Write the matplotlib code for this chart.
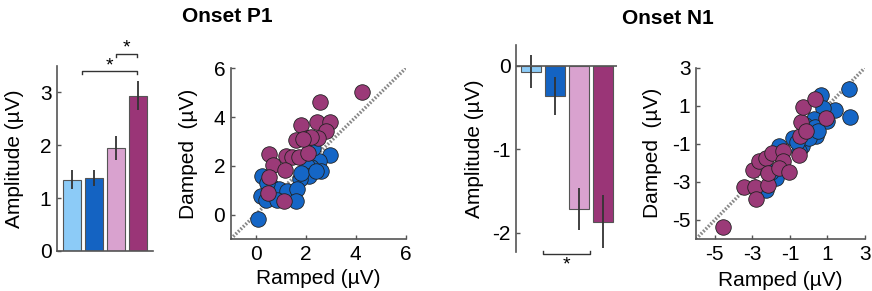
import numpy as np
import matplotlib.pyplot as plt

plt.rcParams['font.family'] = ['Liberation Sans', 'DejaVu Sans']
plt.rcParams['font.size'] = 15

colors = ['#8ccbf7', '#1463c2', '#d9a2cf', '#9a3577']
blue = '#1566c6'
purple = '#9b3a78'
gray = '#555555'

# Onset P1 bars
p1_mean = [1.35, 1.38, 1.95, 2.94]
p1_err = [0.18, 0.15, 0.23, 0.28]

# Onset N1 bars
n1_mean = [-0.07, -0.36, -1.72, -1.87]
n1_err = [0.20, 0.23, 0.25, 0.32]

# Onset P1 scatter (ramped, damped)
p1_blue_x = [0.09, 2.96, 2.53, 2.2, 2.6, 2.04, 2.13, 1.77, 0.27, 0.6, 0.93,
             1.27, 1.67, 0.23, 0.4, 0.87, 1.6, 2.3, 1.8, 2.4, 0.45]
p1_blue_y = [-0.18, 2.43, 2.2, 1.97, 1.8, 1.98, 1.58, 1.44, 1.58, 1.17, 1.03,
             0.97, 1.06, 0.75, 0.6, 0.6, 0.55, 2.75, 1.72, 1.77, 1.3]
p1_purple_x = [4.27, 2.57, 1.83, 2.44, 2.97, 2.8, 2.49, 2.04, 1.6, 2.2, 0.53,
               1.2, 1.47, 1.73, 2.09, 0.71, 1.16, 0.53, 0.49, 1.13, 1.9]
p1_purple_y = [5.01, 4.63, 3.68, 3.78, 3.80, 3.43, 3.13, 3.15, 3.05, 3.2, 2.47,
               2.40, 2.37, 2.37, 2.51, 2.02, 1.83, 1.55, 0.89, 0.55, 3.1]

# Onset N1 scatter (ramped, damped)
n1_blue_x = [2.13, 2.2, 1.42, 0.65, 0.74, 1.0, 0.3, 0.19, 0.4, -0.82, -0.36,
             -1.56, -1.73, -2.27, -0.18, 0.0, -0.5, 0.35, -0.6, -2.0, 0.5]
n1_blue_y = [1.86, 0.4, 0.8, 1.55, 0.89, 0.22, 0.32, -0.43, -0.61, -0.7, -1.14,
             -1.1, -2.79, -3.41, 0.0, -0.7, -1.4, -0.1, -0.9, -2.5, -0.3]
n1_purple_x = [-4.56, -3.44, -2.85, -2.78, -2.14, -2.99, -2.63, -2.27, -1.96,
               -1.36, -1.36, -2.19, -1.56, -1.06, -0.54, -0.47, -0.41, -0.29,
               0.35, 0.92, -0.16]
n1_purple_y = [-5.35, -3.29, -3.28, -3.9, -3.18, -2.35, -1.91, -1.73, -1.46,
               -1.37, -1.91, -2.52, -2.25, -2.48, -1.6, -0.61, 0.13, 0.93,
               1.33, 0.35, -0.31]

W, H = 872, 291
fig = plt.figure(figsize=(W / 100, H / 100), dpi=100)


def ax_px(l, r, t, b):
    return fig.add_axes([l / W, (H - b) / H, (r - l) / W, (b - t) / H])


def style(ax):
    for s in ['top', 'right']:
        ax.spines[s].set_visible(False)
    for s in ['left', 'bottom']:
        ax.spines[s].set_color(gray)
        ax.spines[s].set_linewidth(1.2)
    ax.tick_params(direction='in', length=3, color=gray, width=1, pad=4)


def bracket(ax, x0, x1, y, tick, star_y):
    ax.plot([x0, x0, x1, x1], [y - tick, y, y, y - tick], color='#333333',
            lw=1, clip_on=False)
    ax.text((x0 + x1) / 2, star_y, '*', ha='center', va='center', fontsize=14)


xs = np.arange(1, 5)

# panel 1: P1 bars
ax1 = ax_px(57, 153, 66, 251)
style(ax1)
ax1.bar(xs, p1_mean, width=0.82, color=colors, edgecolor=gray, linewidth=0.8)
ax1.errorbar(xs, p1_mean, yerr=p1_err, fmt='none', ecolor='#333333', elinewidth=1.3)
ax1.set_xlim(0.32, 4.68)
ax1.set_ylim(0, 3.5)
ax1.set_yticks([0, 1, 2, 3])
ax1.set_xticks([])
ax1.set_ylabel('Amplitude (µV)', labelpad=11)
bracket(ax1, 1.45, 3.97, 3.40, 0.05, 3.50)
bracket(ax1, 3.0, 3.97, 3.72, 0.05, 3.84)

# panel 2: P1 scatter
ax2 = ax_px(230.7, 405.7, 68.3, 239)
style(ax2)
ax2.plot([-1, 6], [-1, 6], color='#888888', lw=2.5, ls=(0, (0.5, 0.5)), zorder=1)
ax2.scatter(p1_blue_x, p1_blue_y, s=125, color=blue, edgecolor='#222222', lw=0.6, zorder=2)
ax2.scatter(p1_purple_x, p1_purple_y, s=125, color=purple, edgecolor='#222222', lw=0.6, zorder=3)
ax2.set_xlim(-1, 6)
ax2.set_ylim(-1, 6)
ax2.set_xticks([0, 2, 4, 6])
ax2.set_yticks([0, 2, 4, 6])
ax2.set_xlabel('Ramped (µV)', labelpad=4)
ax2.set_ylabel('Damped  (µV)', labelpad=11)

# panel 3: N1 bars
ax3 = ax_px(516, 616.7, 45, 251.7)
style(ax3)
ax3.spines['bottom'].set_visible(False)
ax3.bar(xs, n1_mean, width=0.8, color=colors, edgecolor=gray, linewidth=0.8)
ax3.errorbar(xs, n1_mean, yerr=n1_err, fmt='none', ecolor='#333333', elinewidth=1.3)
ax3.axhline(0, color=gray, lw=1.2)
ax3.set_xlim(0.38, 4.57)
ax3.set_ylim(-2.23, 0.25)
ax3.set_yticks([-2, -1, 0])
ax3.set_yticklabels(['-2', '-1', '0'])
ax3.set_xticks([])
ax3.set_ylabel('Amplitude (µV)', labelpad=6)
bracket(ax3, 1.5, 3.45, -2.26, -0.04, -2.39)

# panel 4: N1 scatter
ax4 = ax_px(696, 865, 67.7, 239)
style(ax4)
ax4.plot([-6, 3], [-6, 3], color='#888888', lw=2.5, ls=(0, (0.5, 0.5)), zorder=1)
ax4.scatter(n1_blue_x, n1_blue_y, s=125, color=blue, edgecolor='#222222', lw=0.6, zorder=2)
ax4.scatter(n1_purple_x, n1_purple_y, s=125, color=purple, edgecolor='#222222', lw=0.6, zorder=3)
ax4.set_xlim(-6, 3)
ax4.set_ylim(-6, 3)
ax4.set_xticks([-5, -3, -1, 1, 3])
ax4.set_yticks([-5, -3, -1, 1, 3])
ax4.set_xticklabels(['-5', '-3', '-1', '1', '3'])
ax4.set_yticklabels(['-5', '-3', '-1', '1', '3'])
ax4.set_xlabel('Ramped (µV)', labelpad=5)
ax4.set_ylabel('Damped  (µV)', labelpad=7)

fig.text(227 / W, 1 - 17 / H, 'Onset P1', ha='center', va='center',
         fontsize=15, fontweight='bold')
fig.text(668 / W, 1 - 19 / H, 'Onset N1', ha='center', va='center',
         fontsize=15, fontweight='bold')

fig.savefig('out.png', dpi=100)
